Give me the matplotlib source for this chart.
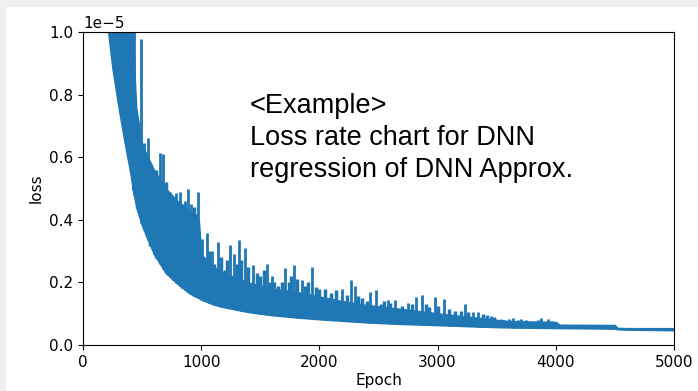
import numpy as np
import matplotlib
matplotlib.use('Agg')
import matplotlib.pyplot as plt
from matplotlib.patches import Rectangle

# loss values in units of 1e-5
epoch_grid = [200, 250, 300, 350, 400, 420, 450, 500, 600, 700, 800, 900, 980, 1000,
              1100, 1200, 1400, 1600, 1800, 2000, 2200, 2400, 2700, 3100, 3400,
              3600, 4000, 4030, 4500, 4520, 4600, 4800, 5000]
lower = [1.04, 0.88, 0.76, 0.65, 0.55, 0.50, 0.44, 0.38, 0.29, 0.23, 0.195, 0.165, 0.15,
         0.145, 0.13, 0.12, 0.105, 0.095, 0.088, 0.082, 0.077, 0.072, 0.067, 0.062,
         0.058, 0.056, 0.054, 0.054, 0.052, 0.050, 0.049, 0.048, 0.047]
upper = [1.2, 1.2, 1.2, 1.2, 1.1, 1.0, 0.76, 0.64, 0.56, 0.50, 0.46, 0.43, 0.40,
         0.29, 0.25, 0.23, 0.20, 0.18, 0.17, 0.155, 0.14, 0.128, 0.115, 0.097, 0.085,
         0.076, 0.074, 0.065, 0.064, 0.055, 0.054, 0.054, 0.054]

# tall spikes
spike_epoch = [423, 430, 492, 515, 550, 600, 650, 680, 720, 736, 790, 820, 860, 890,
               915, 975, 1005, 1045, 1090, 1145, 1243, 1277, 1320, 1370, 1440,
               1556, 1600, 1708, 1785, 1850, 1935, 2190, 2268, 2300, 2428, 2475,
               2580, 2640, 2750, 2817, 2865, 2978, 3050, 3232, 3300, 3342, 3452,
               3536, 3638, 3705, 3875, 3934]
spike_height = [1.05, 1.05, 0.978, 0.645, 0.66, 0.55, 0.613, 0.61, 0.486, 0.49, 0.486,
                0.49, 0.46, 0.50, 0.45, 0.49, 0.34, 0.357, 0.30, 0.33, 0.32, 0.29,
                0.335, 0.31, 0.255, 0.26, 0.22, 0.245, 0.255, 0.208, 0.25, 0.18,
                0.208, 0.19, 0.17, 0.175, 0.145, 0.145, 0.134, 0.154, 0.16, 0.152,
                0.146, 0.131, 0.107, 0.107, 0.093, 0.082, 0.085, 0.083, 0.085, 0.082]

# smaller spikes filling the ragged top of the band
minor_epoch = [540, 570, 620, 700, 760, 840, 940, 960, 1020, 1065, 1110, 1170, 1200,
               1220, 1300, 1340, 1400, 1470, 1500, 1530, 1580, 1620, 1650, 1680,
               1740, 1760, 1810, 1880, 1900, 1970, 2000, 2050, 2100, 2140, 2230,
               2330, 2360, 2400, 2520, 2550, 2600, 2700, 2780, 2900, 2930, 3000,
               3100, 3150, 3200, 3260, 3380, 3420, 3480, 3560, 3600, 3680, 3750,
               3800, 3850, 3960]
minor_height = [0.60, 0.58, 0.56, 0.52, 0.47, 0.45, 0.44, 0.42, 0.27, 0.30, 0.26, 0.28,
                0.24, 0.27, 0.26, 0.27, 0.25, 0.23, 0.22, 0.24, 0.20, 0.20, 0.19, 0.20,
                0.20, 0.22, 0.21, 0.19, 0.20, 0.185, 0.18, 0.18, 0.165, 0.175, 0.16,
                0.155, 0.15, 0.14, 0.13, 0.14, 0.135, 0.125, 0.13, 0.13, 0.12, 0.125,
                0.115, 0.11, 0.11, 0.105, 0.10, 0.095, 0.088, 0.08, 0.082, 0.08, 0.08,
                0.078, 0.08, 0.078]

note_lines = ["<Example>", "Loss rate chart for DNN", "regression of DNN Approx."]

W, H = 698, 391
fig = plt.figure(figsize=(W / 100, H / 100), dpi=100)
fig.patches.append(Rectangle((0, 1 - 6 / H), 1, 6 / H, transform=fig.transFigure,
                             color='#f0f0f0', zorder=0))
fig.patches.append(Rectangle((0, 0), 5 / W, 1, transform=fig.transFigure,
                             color='#f0f0f0', zorder=0))

ax = fig.add_axes([83 / W, 46 / H, 591 / W, 313 / H])
blue = '#1f77b4'
lo = np.array(lower) * 1e-5
hi = np.array(upper) * 1e-5
ax.fill_between(epoch_grid, lo, hi, color=blue, lw=1)
base = np.interp(spike_epoch, epoch_grid, lower) * 1e-5
ax.vlines(spike_epoch, base, np.array(spike_height) * 1e-5, color=blue, lw=2)
base2 = np.interp(minor_epoch, epoch_grid, lower) * 1e-5
ax.vlines(minor_epoch, base2, np.array(minor_height) * 1e-5, color=blue, lw=2.5)

ax.set_xlim(0, 5000)
ax.set_ylim(0, 1e-5)
ax.tick_params(labelsize=11)
ax.yaxis.get_offset_text().set_fontsize(11)
ax.set_xlabel('Epoch', fontsize=11, labelpad=2)
ax.set_ylabel('loss', fontsize=11)

for i, line in enumerate(note_lines):
    fig.text(250 / W, 1 - (113 + 32 * i) / H, line, va='baseline', ha='left',
             fontsize=19.5, family='Liberation Sans', color='black')

fig.savefig('out.png', dpi=100)
